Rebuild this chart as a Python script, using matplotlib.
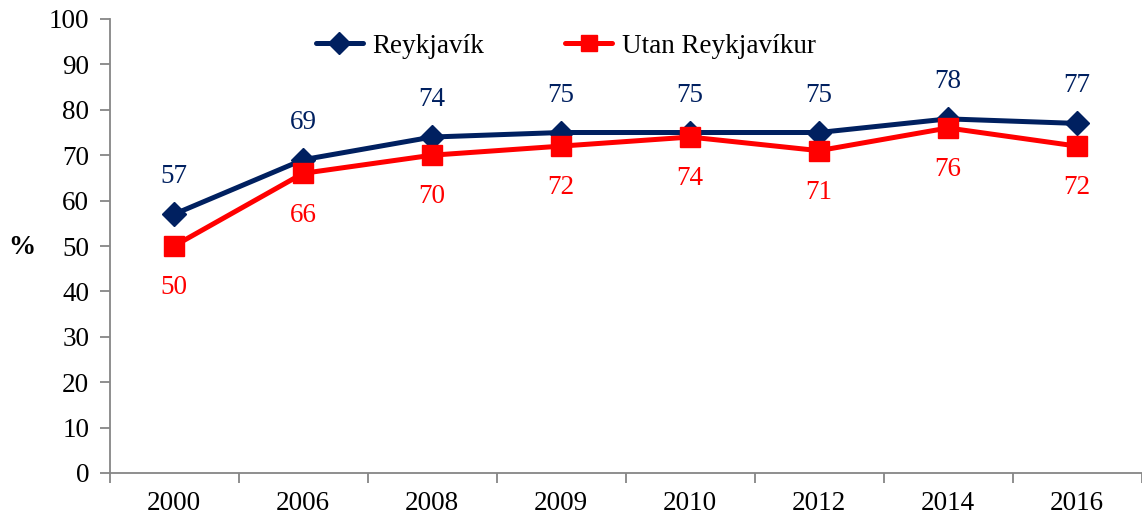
import matplotlib
matplotlib.use("Agg")
import matplotlib.pyplot as plt
from matplotlib.lines import Line2D
import numpy as np

years = ["2000", "2006", "2008", "2009", "2010", "2012", "2014", "2016"]
reykjavik = [57, 69, 74, 75, 75, 75, 78, 77]
utan = [50, 66, 70, 72, 74, 71, 76, 72]
series_names = ["Reykjavík", "Utan Reykjavíkur"]
y_ticks = list(range(0, 101, 10))

NAVY = "#002060"
RED = "#FF0000"
AXIS_GREY = "#868686"
FS = 19.5

plt.rcParams["font.family"] = ["Liberation Serif", "DejaVu Serif"]

fig = plt.figure(figsize=(11.42, 5.17), dpi=100)
ax = fig.add_axes([109.5 / 1142, 44 / 517, 1032 / 1142, 454 / 517])

x = np.arange(len(years))

ax.plot(x, reykjavik, color=NAVY, lw=3.6, marker="D", markersize=12.5,
        solid_joinstyle="round", solid_capstyle="round", zorder=3)
ax.plot(x, utan, color=RED, lw=3.6, marker="s", markersize=14,
        solid_joinstyle="round", solid_capstyle="round", zorder=4)

for xi, v in zip(x, reykjavik):
    ax.annotate(str(v), (xi, v), xytext=(0, 27), textcoords="offset points",
                ha="center", va="center", fontsize=FS, color=NAVY)
for xi, v in zip(x, utan):
    ax.annotate(str(v), (xi, v), xytext=(0, -30), textcoords="offset points",
                ha="center", va="center", fontsize=FS, color=RED)

ax.set_xlim(-0.5, len(years) - 0.5)
ax.set_ylim(0, 100)
ax.set_yticks(y_ticks)
ax.set_yticklabels([str(t) for t in y_ticks], fontsize=FS)
ax.set_xticks(x)
ax.set_xticklabels(years, fontsize=FS)
ax.set_xticks(np.arange(-0.5, len(years), 1.0), minor=True)
ax.tick_params(axis="x", which="major", length=0, pad=13)
ax.tick_params(axis="x", which="minor", length=7, width=1.3, color=AXIS_GREY)
ax.tick_params(axis="y", which="major", length=7, width=1.3, color=AXIS_GREY, pad=7.5)

for side in ["top", "right"]:
    ax.spines[side].set_visible(False)
for side in ["left", "bottom"]:
    ax.spines[side].set_color(AXIS_GREY)
    ax.spines[side].set_linewidth(1.3)

fig.text(22 / 1142, 1 - 248 / 517, "%", fontsize=FS, fontweight="bold",
         ha="center", va="center")

handles = [
    Line2D([], [], color=NAVY, lw=3.6, marker="D", markersize=11, solid_capstyle="round"),
    Line2D([], [], color=RED, lw=3.6, marker="s", markersize=12, solid_capstyle="round"),
]
ax.legend(handles, series_names, loc="center", bbox_to_anchor=(0.442, 0.94),
          ncol=2, frameon=False, fontsize=FS, handlelength=1.75,
          handletextpad=0.35, columnspacing=2.97, borderpad=0)

fig.savefig("out.png", dpi=100)
